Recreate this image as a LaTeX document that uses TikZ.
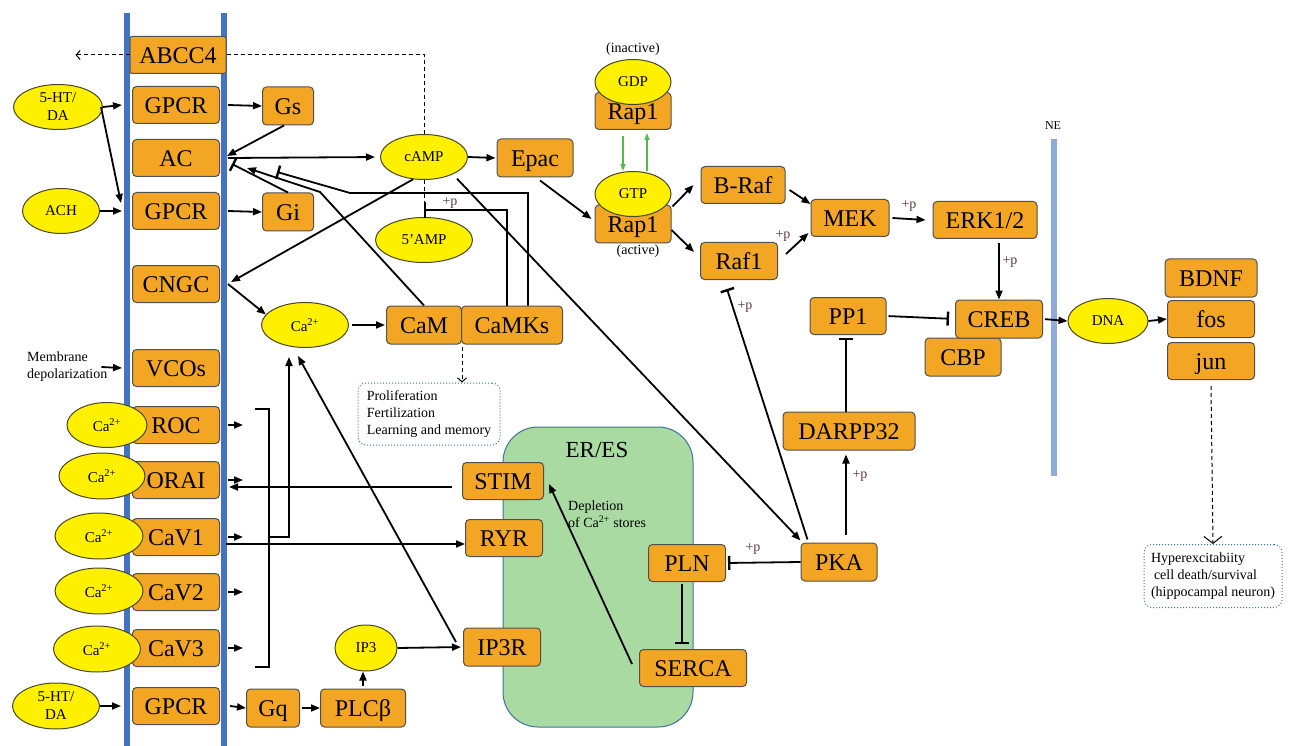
\documentclass[tikz,border=0pt]{standalone}
\usepackage{fontspec}
\setmainfont{Liberation Serif}
\usetikzlibrary{arrows.meta,shapes.geometric,calc}
\definecolor{orng}{RGB}{242,166,36}
\definecolor{ylw}{RGB}{255,240,0}
\definecolor{bxline}{RGB}{80,80,80}
\definecolor{ellline}{RGB}{70,70,40}
\definecolor{mem}{RGB}{68,114,196}
\definecolor{nec}{RGB}{143,170,220}
\definecolor{erfill}{RGB}{169,218,162}
\definecolor{erline}{RGB}{65,113,156}
\definecolor{grn}{RGB}{80,190,70}
\definecolor{pcol}{RGB}{90,60,60}
\tikzset{
 pbox/.style={draw=bxline, line width=1pt, fill=orng, rounded corners=4pt, minimum height=37pt, inner sep=0pt, text height=20pt, text depth=3.8pt, font=\rmfamily\fontsize{24}{26}\selectfont},
 pell/.style={ellipse, draw=ellline, line width=1pt, fill=ylw, inner sep=0pt, align=center, font=\rmfamily\fontsize{15}{18}\selectfont},
 plbl/.style={inner sep=0pt, font=\rmfamily\fontsize{14}{17}\selectfont},
 pplus/.style={inner sep=0pt, text=pcol, font=\rmfamily\fontsize{14}{16}\selectfont},
 pline/.style={line width=1.8pt},
 parr/.style={line width=1.8pt, -{Triangle[length=9pt,width=7pt]}},
 pinh/.style={line width=1.8pt, -{Bar[width=14pt,line width=2.4pt]}},
 pdash/.style={line width=1pt, dash pattern=on 4pt off 3pt},
 pgarr/.style={line width=1.3pt, draw=grn, -{Triangle[length=7pt,width=5pt]}},
 pnote/.style={draw=erline, line width=1pt, dotted, rounded corners=8pt, inner sep=0pt, align=left, font=\rmfamily\fontsize{14}{17}\selectfont},
 pbar/.style={draw=none, inner sep=0pt, minimum width=6pt},
}
\begin{document}
\begin{tikzpicture}[x=1pt,y=-1pt]
\useasboundingbox (0,0) rectangle (1296,746);
% membranes
\node[pbar, fill=mem, minimum height=733pt] (memL) at (127,379.5) {};
\node[pbar, fill=mem, minimum height=733pt] (memR) at (224,379.5) {};
\node[pbar, fill=nec, minimum height=337pt] (ne) at (1054,307.5) {};
\node[inner sep=0pt, font=\rmfamily\fontsize{12}{14}\selectfont] (nel) at (1053,126) {NE};
% ER
\node[draw=erline, fill=erfill, line width=1pt, rounded corners=35pt, minimum width=190pt, minimum height=300pt, inner sep=0pt] (er) at (598,577) {};
\node[inner sep=0pt, font=\rmfamily\fontsize{23}{25}\selectfont] (erl) at (597,450) {ER/ES};
\node[plbl, align=left, anchor=west] (depl) at (568,514) {Depletion\\of Ca\textsuperscript{2+} stores};
% membrane boxes
\node[pbox, minimum width=96pt, rounded corners=2pt] (abcc4) at (178,55) {ABCC4};
\node[pbox, minimum width=87pt] (gpcrA) at (176,105) {GPCR};
\node[pbox, minimum width=87pt] (ac) at (176,158) {AC};
\node[pbox, minimum width=87pt] (gpcrB) at (176,211) {GPCR};
\node[pbox, minimum width=87pt] (cngc) at (176,284) {CNGC};
\node[pbox, minimum width=87pt] (vcos) at (176,368) {VCOs};
\node[pbox, minimum width=87pt] (roc) at (176,425) {ROC};
\node[pbox, minimum width=87pt] (orai) at (176,480) {ORAI};
\node[pbox, minimum width=87pt] (cav1) at (176,537) {CaV1};
\node[pbox, minimum width=87pt] (cav2) at (176,592) {CaV2};
\node[pbox, minimum width=87pt] (cav3) at (176,648) {CaV3};
\node[pbox, minimum width=87pt] (gpcrC) at (176,706) {GPCR};
% left ellipses
\node[pell, minimum width=89pt, minimum height=45pt] (htA) at (58,107) {5-HT/\\DA};
\node[pell, minimum width=77pt, minimum height=45pt] (ach) at (61,211) {ACH};
\node[plbl, align=left, anchor=west] (mdep) at (27,367) {Membrane\\depolarization};
\node[pell, minimum width=80pt, minimum height=45pt] (caR) at (107,425) {Ca\textsuperscript{2+}};
\node[pell, minimum width=86pt, minimum height=46pt] (caO) at (102,476) {Ca\textsuperscript{2+}};
\node[pell, minimum width=88pt, minimum height=46pt] (caV1) at (99,536) {Ca\textsuperscript{2+}};
\node[pell, minimum width=88pt, minimum height=46pt] (caV2) at (99,591) {Ca\textsuperscript{2+}};
\node[pell, minimum width=87pt, minimum height=46pt] (caV3) at (97,649) {Ca\textsuperscript{2+}};
\node[pell, minimum width=87pt, minimum height=46pt] (htB) at (56,706) {5-HT/\\DA};
% cytoplasm
\node[pbox, minimum width=51pt, minimum height=38pt] (gs) at (288,106) {Gs};
\node[pbox, minimum width=51pt, minimum height=38pt] (gi) at (288,212) {Gi};
\node[pell, minimum width=87pt, minimum height=45pt] (camp) at (424,157) {cAMP};
\node[pell, minimum width=97pt, minimum height=45pt] (amp) at (424,240) {5'AMP};
\node[pbox, minimum width=76pt, minimum height=38pt] (epac) at (535,158) {Epac};
\node[pbox, minimum width=76pt] (rap1i) at (633,111) {Rap1};
\node[pell, minimum width=76pt, minimum height=45pt] (gdp) at (633,82) {GDP};
\node[plbl] (inact) at (633,49) {(inactive)};
\node[pbox, minimum width=76pt, minimum height=38pt] (rap1a) at (633,224) {Rap1};
\node[pell, minimum width=76pt, minimum height=45pt] (gtp) at (633,194) {GTP};
\node[plbl] (act) at (638,251) {(active)};
\node[pbox, minimum width=84pt] (braf) at (743,185) {B-Raf};
\node[pbox, minimum width=77pt] (raf1) at (739,261) {Raf1};
\node[pbox, minimum width=78pt] (mek) at (850,218) {MEK};
\node[pbox, minimum width=104pt] (erk) at (985,220) {ERK1/2};
\node[pbox, minimum width=76pt, minimum height=38pt] (cbp) at (963,357) {CBP};
\node[pbox, minimum width=87pt, minimum height=38pt] (creb) at (999,319) {CREB};
\node[pbox, minimum width=76pt] (pp1) at (848,316) {PP1};
\node[pbox, minimum width=132pt, minimum height=38pt] (darpp) at (849,431) {DARPP32};
\node[pbox, minimum width=76pt, minimum height=38pt] (pka) at (839,562) {PKA};
\node[pell, minimum width=80pt, minimum height=45pt] (dna) at (1108,321) {DNA};
\node[pbox, minimum width=92pt, minimum height=38pt] (bdnf) at (1211,278) {BDNF};
\node[pbox, minimum width=87pt] (fos) at (1211,319) {fos};
\node[pbox, minimum width=87pt] (jun) at (1211,361) {jun};
\node[pnote, minimum width=138pt, minimum height=63pt] (hyper) at (1213,576) {Hyperexcitabiity\\\hspace{3pt}cell death/survival\\(hippocampal neuron)};
\node[pell, minimum width=87pt, minimum height=45pt] (ca) at (305,325) {Ca\textsuperscript{2+}};
\node[pbox, minimum width=75pt, minimum height=38pt] (cam) at (424,325) {CaM};
\node[pbox, minimum width=101pt, minimum height=38pt] (camks) at (512,325) {CaMKs};
\node[pnote, minimum width=142pt, minimum height=62pt] (prolif) at (429,414) {Proliferation\\Fertilization\\Learning and memory};
\node[pbox, minimum width=81pt] (stim) at (503,481) {STIM};
\node[pbox, minimum width=77pt] (ryr) at (504,538) {RYR};
\node[pbox, minimum width=77pt, minimum height=38pt] (ip3r) at (502,647) {IP3R};
\node[pell, minimum width=62pt, minimum height=46pt] (ip3) at (366,648) {IP3};
\node[pbox, minimum width=85pt, minimum height=38pt] (plcb) at (363,708) {PLCβ};
\node[pbox, minimum width=53pt, minimum height=38pt] (gq) at (273,708) {Gq};
\node[pbox, minimum width=77pt] (pln) at (687,563) {PLN};
\node[pbox, minimum width=107pt] (serca) at (693,668) {SERCA};
% +p labels
\node[pplus] (p1) at (450,203) {+p};
\node[pplus] (p2) at (783,236) {+p};
\node[pplus] (p3) at (909,206) {+p};
\node[pplus] (p4) at (1010,262) {+p};
\node[pplus] (p5) at (860,476) {+p};
\node[pplus] (p6) at (745,307) {+p};
\node[pplus] (p7) at (753,549) {+p};
% coordinates
\coordinate (b1) at (320,192);
\coordinate (b2) at (350,193);
\coordinate (pdeP) at (424,210);
\coordinate (brT) at (255,409);
\coordinate (brB) at (255,667);
\coordinate (brM) at (269,537);
\coordinate (caIn) at ([xshift=-16pt,yshift=-9pt]ca.south);
\coordinate (ryrIn) at ([yshift=-6pt]ryr.west);
\coordinate (stimOut) at ([xshift=-10pt,yshift=-6pt]stim.west);
\coordinate (oraiIn) at ([xshift=9pt]orai.east);
\coordinate (exportEnd) at ([xshift=-54pt]abcc4.west);
% connectors left
\draw[parr] (htA.east) -- ([xshift=-10pt]gpcrA.west);
\draw[parr] ([xshift=-2pt]htA.east) -- ([xshift=-11pt,yshift=8pt]gpcrB.west);
\draw[parr] (ach.east) -- ([xshift=-10pt]gpcrB.west);
\draw[parr] ([xshift=-6pt]mdep.east) -- ([xshift=-10pt]vcos.west);
\draw[parr] (htB.east) -- ([xshift=-11pt]gpcrC.west);
\draw[parr] ([xshift=8pt]gpcrA.east) -- (gs.west);
\draw[parr] ([xshift=-4pt]gs.south) -- ([xshift=7pt,yshift=2pt]ac.east);
\draw[parr] ([xshift=8pt]gpcrB.east) -- (gi.west);
\draw[pinh] (gi.north) -- ([xshift=12pt,yshift=-6pt]ac.east);
\draw[parr, shorten >=5pt] ([xshift=8pt]ac.east) -- (camp.west);
\draw[parr, shorten >=1pt] (camp.east) -- (epac.west);
\draw[parr] ([xshift=5pt,yshift=-3pt]epac.south) -- ([xshift=-3pt,yshift=5pt]rap1a.west);
\draw[pgarr] ([xshift=-10pt,yshift=-6pt]rap1i.south) -- ([xshift=-10pt]gtp.north);
\draw[pgarr] ([xshift=14pt]gtp.north) -- ([xshift=14pt,yshift=-3pt]rap1i.south);
\draw[parr] ([xshift=1pt,yshift=-2pt]rap1a.north east) -- ([xshift=-7pt]braf.west);
\draw[parr] ([yshift=-6pt]rap1a.east) -- ([xshift=-6pt,yshift=9pt]raf1.west);
\draw[parr] ([xshift=4pt,yshift=-5pt]braf.east) -- ([yshift=-5pt]mek.north west);
\draw[parr] ([xshift=8pt,yshift=7pt]raf1.east) -- ([xshift=-2pt,yshift=4pt]mek.south west);
\draw[parr] ([xshift=3pt]mek.east) -- ([xshift=-7pt]erk.west);
\draw[parr, shorten <=4pt] (creb.north |- erk.south) -- (creb.north);
\draw[pinh, shorten <=2pt, shorten >=6pt] (pp1.east) -- (creb.west);
\draw[pinh, shorten >=3pt] ([xshift=-3pt]darpp.north) -- ([xshift=-3pt]darpp.north |- pp1.south);
\draw[parr, shorten <=8pt, shorten >=4pt] ([xshift=7pt]pka.north) -- ([xshift=7pt]pka.north |- darpp.south);
\draw[pinh] ([xshift=7pt,yshift=3pt]pka.north west) -- ([xshift=-12pt,yshift=-9pt]raf1.south);
\draw[pinh, shorten >=2pt] (pka.west) -- (pln.east);
\draw[pinh, shorten <=2pt, shorten >=5pt] ([xshift=-5pt]pln.south) -- ([xshift=-5pt]pln.south |- serca.north);
\draw[parr] ([xshift=-7pt,yshift=4pt]serca.west) -- ([xshift=5pt,yshift=-3pt]stim.east);
\draw[parr, shorten <=6pt] (camp.-31) -- ([yshift=2pt]pka.north west);
\draw[parr] (camp.244) -- ([xshift=11pt,yshift=2pt]cngc.east);
\draw[parr] ([xshift=8pt]cngc.east) -- (ca.165);
\draw[parr, shorten <=3pt, shorten >=1pt] (ca.east) -- (cam.west);
\draw[parr] (cam.north) -- (b1) -- ([xshift=27pt,yshift=-10pt]ac.east);
\draw[pinh] ([xshift=16pt]camks.north) |- (b2) -- ([xshift=57pt,yshift=-14pt]ac.east);
\draw[line width=1.8pt, -{Bar[width=16pt,line width=2.4pt]}] ([xshift=-5pt]camks.north) |- (pdeP);
% dashed
\draw[pdash] (abcc4.east) -- (camp.north |- abcc4.east) -- (camp.north);
\draw[pdash, -{Straight Barb[length=4pt,width=9pt]}] (abcc4.west) -- (exportEnd);
\draw[pdash] (camp.south) -- (amp.north);
\draw[pdash, -{Straight Barb[length=4pt,width=9pt]}, shorten <=2pt] (cam.south east) -- (cam.south east |- prolif.north);
\draw[pdash, -{Straight Barb[length=7pt,width=18pt]}] ([yshift=-6pt]jun.south) -- (hyper.north);
\draw[parr, shorten <=2pt] (creb.east) -- (dna.west);
\draw[parr] (dna.east) -- (fos.west);
% channels
\foreach \n in {roc,orai,cav1,cav2,cav3}{
  \draw[parr] ([xshift=8pt]\n.east) -- ([xshift=23pt]\n.east);
}
\draw[pline] (brT) -- (brT -| brM) -- (brB -| brM) -- (brB);
\draw[parr] (brM) -- (caIn |- brM) -- (caIn);
\draw[parr, shorten <=6pt] (cav1.east |- ryrIn) -- (ryrIn);
\draw[parr] (stimOut) -- (oraiIn |- stimOut);
\draw[parr] ([xshift=-7pt,yshift=5pt]ip3r.west) -- ([xshift=-7pt,yshift=-8pt]ca.south);
\draw[parr, shorten >=2pt] (ip3.east) -- (ip3r.west);
\draw[parr, shorten <=3pt] (plcb.north) -- (plcb.north |- ip3.south);
\draw[parr] ([xshift=10pt]gpcrC.east) -- (gq.west);
\draw[parr, shorten <=2pt] (gq.east) -- (plcb.west);
\end{tikzpicture}
\end{document}
